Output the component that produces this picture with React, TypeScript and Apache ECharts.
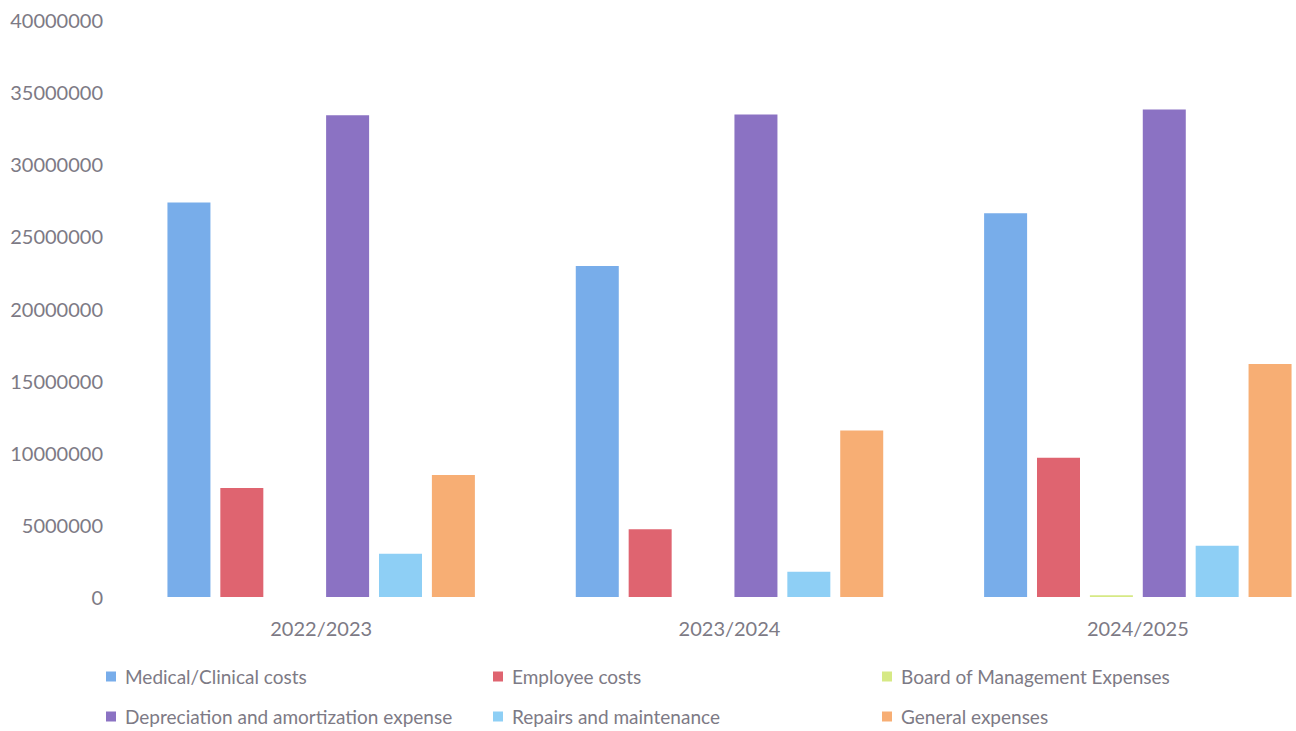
import React, { useEffect, useRef } from "react";
import * as echarts from "echarts";

const categories = ["2022/2023", "2023/2024", "2024/2025"];
const seriesNames = [
  "Medical/Clinical costs",
  "Employee costs",
  "Board of Management Expenses",
  "Depreciation and amortization expense",
  "Repairs and maintenance",
  "General expenses",
];
const medical = [27350000, 22950000, 26600000];
const employee = [7550000, 4700000, 9650000];
const board = [0, 0, 120000];
const depreciation = [33400000, 33450000, 33800000];
const repairs = [3000000, 1750000, 3550000];
const general = [8450000, 11550000, 16150000];
const yTicks = { min: 0, max: 40000000, interval: 5000000 };

const colors = ["#78adea", "#df6470", "#d6e985", "#8b72c3", "#8ecff5", "#f7ae74"];
const values = [medical, employee, board, depreciation, repairs, general];

const legendPos = [
  { left: 106, top: 667 },
  { left: 493, top: 667 },
  { left: 882, top: 667 },
  { left: 106, top: 707 },
  { left: 493, top: 707 },
  { left: 882, top: 707 },
];

export default function App() {
  const ref = useRef<HTMLDivElement>(null);
  useEffect(() => {
    if (!ref.current) return;
    const chart = echarts.init(ref.current, null, { renderer: "svg" });
    const font = "Lato, 'Open Sans', sans-serif";
    chart.setOption({
      animation: false,
      backgroundColor: "#ffffff",
      textStyle: { fontFamily: font },
      grid: { left: 117, right: 0, top: 20, bottom: 134, containLabel: false },
      xAxis: {
        type: "category",
        data: categories,
        axisLine: { show: false },
        axisTick: { show: false },
        axisLabel: { color: "#7d7a85", fontSize: 20, margin: 21, fontFamily: font },
      },
      yAxis: {
        type: "value",
        min: yTicks.min,
        max: yTicks.max,
        interval: yTicks.interval,
        axisLine: { show: false },
        axisTick: { show: false },
        splitLine: { show: false },
        axisLabel: {
          color: "#7d7a85",
          fontSize: 20,
          margin: 14,
          fontFamily: font,
          formatter: (v: number) => String(v),
        },
      },
      legend: seriesNames.map((name, i) => ({
        data: [name],
        left: legendPos[i].left,
        top: legendPos[i].top,
        padding: 0,
        icon: "rect",
        itemWidth: 10,
        itemHeight: 10,
        itemGap: 0,
        textStyle: { color: "#7d7a85", fontSize: 19, fontFamily: font, padding: [0, 0, 0, 4] },
      })),
      series: seriesNames.map((name, i) => ({
        name,
        type: "bar",
        data: values[i],
        barWidth: 43,
        barGap: "23%",
        itemStyle: { color: colors[i] },
      })),
    });
    return () => chart.dispose();
  }, []);
  return (
    <div style={{ position: "fixed", left: 0, top: 0, width: 1296, height: 731, overflow: "hidden", background: "#fff" }}>
      <div ref={ref} style={{ position: "absolute", left: 0, top: 0, width: 1342, height: 731 }} />
    </div>
  );
}
